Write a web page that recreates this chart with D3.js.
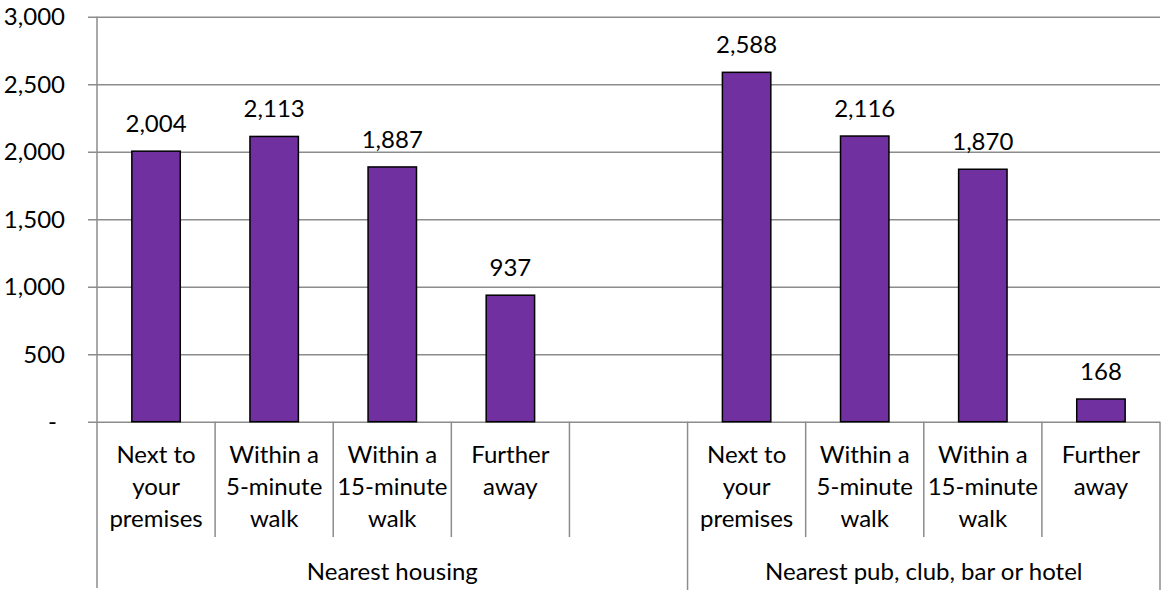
<!DOCTYPE html>
<html>
<head>
<meta charset="utf-8">
<script src="https://cdn.jsdelivr.net/npm/d3@7/dist/d3.min.js"></script>
<style>
  html, body { margin: 0; padding: 0; background: #fff; }
  svg { display: block; }
  text { font-family: Lato, "Open Sans", sans-serif; fill: #000; }
</style>
</head>
<body>
<svg id="chart" width="1161" height="590"></svg>
<script>
// Distance categories and counts for each group
const groups = ["Nearest housing", "Nearest pub, club, bar or hotel"];
const housingCats = ["Next to|your|premises", "Within a|5-minute|walk", "Within a|15-minute|walk", "Further|away", ""];
const pubCats = ["Next to|your|premises", "Within a|5-minute|walk", "Within a|15-minute|walk", "Further|away"];
const housingValues = [2004, 2113, 1887, 937, null];
const pubValues = [2588, 2116, 1870, 168];
const yTicks = [0, 500, 1000, 1500, 2000, 2500, 3000];

const rows = [
  ...housingCats.map((c, i) => ({ key: "h" + i, group: 0, label: c, value: housingValues[i] })),
  ...pubCats.map((c, i) => ({ key: "p" + i, group: 1, label: c, value: pubValues[i] }))
];

const svg = d3.select("#chart");
const plotLeft = 97, plotRight = 1160, plotTop = 16.7, plotBase = 421.7;
const gridColor = "#8c8c8c";

const x = d3.scaleBand().domain(rows.map(d => d.key)).range([plotLeft, plotRight]).padding(0);
const y = d3.scaleLinear().domain([0, 3000]).range([plotBase, plotTop]);
const barW = x.bandwidth() * 0.41;
const fmt = d3.format(",");

// Horizontal gridlines with outward ticks
const yAxis = d3.axisLeft(y).tickValues(yTicks).tickSize(-(plotRight - plotLeft)).tickSizeOuter(0)
  .tickFormat(d => d === 0 ? "-" : fmt(d));
const gy = svg.append("g").attr("transform", `translate(${plotLeft},0)`).call(yAxis);
gy.select(".domain").remove();
gy.selectAll(".tick line").attr("x1", -9).attr("stroke", gridColor).attr("stroke-width", 1.5);
gy.selectAll(".tick text")
  .attr("x", d => d === 0 ? -40 : -32)
  .attr("dy", "0.34em")
  .style("font-size", "24px")
  .style("font-family", "Lato, sans-serif");

// Vertical axis line extending through the category labels
svg.append("line").attr("x1", plotLeft).attr("x2", plotLeft).attr("y1", plotTop).attr("y2", 588)
  .attr("stroke", gridColor).attr("stroke-width", 1.5);

// Bars
svg.append("g").selectAll("rect")
  .data(rows.filter(d => d.value != null))
  .join("rect")
  .attr("x", d => x(d.key) + (x.bandwidth() - barW) / 2)
  .attr("width", barW)
  .attr("y", d => y(d.value))
  .attr("height", d => y(0) - y(d.value))
  .attr("fill", "#7030A0")
  .attr("stroke", "#000")
  .attr("stroke-width", 1.5);

// Value labels
svg.append("g").selectAll("text")
  .data(rows.filter(d => d.value != null))
  .join("text")
  .attr("x", d => x(d.key) + x.bandwidth() / 2)
  .attr("y", d => y(d.value) - 19)
  .attr("text-anchor", "middle")
  .style("font-size", "24px")
  .text(d => fmt(d.value));

// Category separators
const dividers = svg.append("g");
rows.forEach((d, i) => {
  if (i === 0) return;
  const xx = x(d.key);
  const groupEdge = rows[i - 1].group !== d.group;
  dividers.append("line").attr("x1", xx).attr("x2", xx)
    .attr("y1", plotBase).attr("y2", groupEdge ? 590 : 537)
    .attr("stroke", gridColor).attr("stroke-width", 1.5);
});
dividers.append("line").attr("x1", plotRight).attr("x2", plotRight)
  .attr("y1", plotBase).attr("y2", 590).attr("stroke", gridColor).attr("stroke-width", 1.5);

// Category labels (multi-line)
const catG = svg.append("g");
rows.forEach(d => {
  if (!d.label) return;
  const t = catG.append("text")
    .attr("text-anchor", "middle")
    .style("font-size", "24px");
  d.label.split("|").forEach((line, j) => {
    t.append("tspan").attr("x", x(d.key) + x.bandwidth() / 2).attr("y", 463 + j * 32).text(line);
  });
});

// Group labels
groups.forEach((g, gi) => {
  const keys = rows.filter(d => d.group === gi).map(d => d.key);
  const x0 = x(keys[0]), x1 = x(keys[keys.length - 1]) + x.bandwidth();
  svg.append("text")
    .attr("x", (x0 + x1) / 2).attr("y", 580)
    .attr("text-anchor", "middle")
    .style("font-size", "24px")
    .text(g);
});
</script>
</body>
</html>
